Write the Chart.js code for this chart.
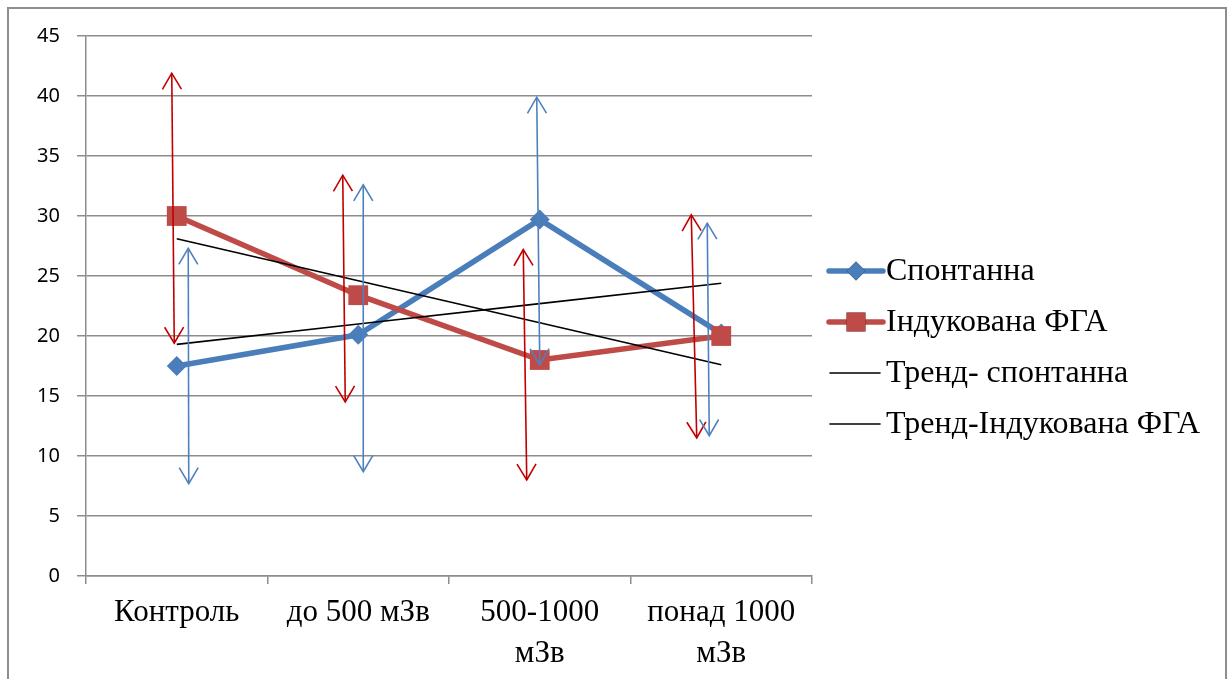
<!DOCTYPE html>
<html lang="uk">
<head>
<meta charset="utf-8">
<title>Спонтанна та індукована ФГА</title>
<script src="https://cdn.jsdelivr.net/npm/chart.js@4.4.1/dist/chart.umd.min.js"></script>
<style>
  html, body { margin: 0; padding: 0; background: #fff; overflow: hidden; }
  #wrap { position: relative; width: 1230px; height: 679px; }
  #frame {
    position: absolute; left: 7px; top: 7px; width: 1220px; height: 700px;
    border: 2px solid #8e8e8e; box-sizing: border-box; pointer-events: none;
  }
</style>
</head>
<body>
<div id="wrap">
  <canvas id="chart" width="1230" height="679"></canvas>
  <div id="frame"></div>
</div>
<script>
// дані
const categories = ['Контроль', 'до 500 мЗв', ['500-1000', 'мЗв'], ['понад 1000', 'мЗв']];
const spontanna = [17.5, 20.1, 29.7, 20.2];
const indukovana = [30.0, 23.4, 18.0, 20.0];
const trendSpontanna = [19.3, 21.0, 22.7, 24.4];
const trendIndukovana = [28.1, 24.6, 21.1, 17.6];

// межі стрілок (розкид)
const spontannaHigh = [27.3, 32.6, 39.9, 29.4];
const spontannaLow = [7.7, 8.7, 17.6, 11.7];
const indukovanaHigh = [41.9, 33.4, 27.2, 30.1];
const indukovanaLow = [19.4, 14.5, 8.0, 11.5];

const yTicks = [0, 5, 10, 15, 20, 25, 30, 35, 40, 45];

const BLUE = '#4a7ebb';
const RED = '#be4b48';
const SERIF = '"Liberation Serif", "Times New Roman", serif';

// стрілки: зсув відносно центру категорії (px), верх / низ
const arrowSets = [
  { high: indukovanaHigh, low: indukovanaLow, color: '#c00000',
    shiftTop: [-5, -15.5, -16.5, -30], shiftBottom: [-2.5, -13, -13, -24.5] },
  { high: spontannaHigh, low: spontannaLow, color: '#4f81bd',
    shiftTop: [11.5, 5, -3, -14], shiftBottom: [12, 5, 0, -12] },
];

function drawHead(ctx, tx, ty, fx, fy) {
  // V-подібний наконечник у точці (tx,ty), напрям від (fx,fy)
  const ang = Math.atan2(ty - fy, tx - fx);
  const back = 16, half = 9.5;
  const bx = tx - Math.cos(ang) * back, by = ty - Math.sin(ang) * back;
  const nx = -Math.sin(ang) * half, ny = Math.cos(ang) * half;
  ctx.beginPath();
  ctx.moveTo(bx + nx, by + ny);
  ctx.lineTo(tx, ty);
  ctx.lineTo(bx - nx, by - ny);
  ctx.stroke();
}

const arrowPlugin = {
  id: 'arrows',
  afterDatasetsDraw(chart) {
    const { ctx, scales: { x, y } } = chart;
    ctx.save();
    ctx.lineWidth = 1.6;
    arrowSets.forEach(a => {
      ctx.strokeStyle = a.color;
      a.high.forEach((hi, i) => {
        const cx = x.getPixelForValue(i);
        const x1 = cx + a.shiftTop[i], y1 = y.getPixelForValue(hi);
        const x2 = cx + a.shiftBottom[i], y2 = y.getPixelForValue(a.low[i]);
        ctx.beginPath();
        ctx.moveTo(x1, y1);
        ctx.lineTo(x2, y2);
        ctx.stroke();
        drawHead(ctx, x1, y1, x2, y2);
        drawHead(ctx, x2, y2, x1, y1);
      });
    });
    ctx.restore();
  }
};

// легенда праворуч
const legendPlugin = {
  id: 'sideLegend',
  afterDraw(chart) {
    const { ctx } = chart;
    const rows = [271, 322, 373, 424];
    ctx.save();
    chart.data.datasets.forEach((ds, i) => {
      const yy = rows[i];
      ctx.strokeStyle = ds.borderColor;
      ctx.lineWidth = ds.borderWidth;
      ctx.lineCap = 'round';
      ctx.beginPath();
      ctx.moveTo(ds.pointRadius ? 829 : 830, yy);
      ctx.lineTo(ds.pointRadius ? 883 : 880, yy);
      ctx.stroke();
      if (ds.pointRadius) {
        Chart.helpers.drawPoint(ctx, {
          pointStyle: ds.pointStyle, radius: ds.pointRadius * 0.95, borderWidth: 0
        }, 856, yy);
        ctx.fillStyle = ds.pointBackgroundColor;
        ctx.fill();
      }
      ctx.fillStyle = '#000';
      ctx.font = '32px ' + SERIF;
      ctx.textBaseline = 'middle';
      ctx.fillText(ds.label, 886, yy + 1);
    });
    ctx.restore();
  }
};

new Chart(document.getElementById('chart'), {
  type: 'line',
  data: {
    labels: categories,
    datasets: [
      { label: 'Спонтанна', data: spontanna, borderColor: BLUE, backgroundColor: BLUE,
        pointBackgroundColor: BLUE, pointBorderColor: BLUE, borderWidth: 5.5,
        pointStyle: 'rectRot', pointRadius: 10, pointBorderWidth: 0, order: 4 },
      { label: 'Індукована ФГА', data: indukovana, borderColor: RED, backgroundColor: RED,
        pointBackgroundColor: RED, pointBorderColor: RED, borderWidth: 5.5,
        pointStyle: 'rect', pointRadius: 14, pointBorderWidth: 0, order: 3 },
      { label: 'Тренд- спонтанна', data: trendSpontanna, borderColor: '#000',
        borderWidth: 1.6, pointRadius: 0, order: 2 },
      { label: 'Тренд-Індукована ФГА', data: trendIndukovana, borderColor: '#000',
        borderWidth: 1.6, pointRadius: 0, order: 1 },
    ]
  },
  options: {
    responsive: false,
    animation: false,
    layout: { padding: { top: 36, right: 418, left: 0, bottom: 0 } },
    plugins: { legend: { display: false }, tooltip: { enabled: false } },
    scales: {
      x: {
        offset: true,
        grid: { offset: true, drawOnChartArea: false, color: '#8c8c8c', lineWidth: 1.5, tickLength: 8 },
        border: { color: '#8c8c8c', width: 1.5 },
        ticks: { color: '#000', font: { family: SERIF, size: 31, lineHeight: 1.3 },
                 padding: 9, maxRotation: 0, autoSkip: false },
        afterFit(s) { s.height = 103; }
      },
      y: {
        min: 0, max: 45,
        afterBuildTicks(s) { s.ticks = yTicks.map(v => ({ value: v })); },
        ticks: { color: '#000', font: { family: '"Noto Sans", "Open Sans", sans-serif', size: 20 },
                 padding: 17 },
        grid: { color: '#8c8c8c', lineWidth: 1.5, tickLength: 9 },
        border: { color: '#8c8c8c', width: 1.5 },
        afterFit(s) { s.width = 86; }
      }
    }
  },
  plugins: [arrowPlugin, legendPlugin]
});
</script>
</body>
</html>
